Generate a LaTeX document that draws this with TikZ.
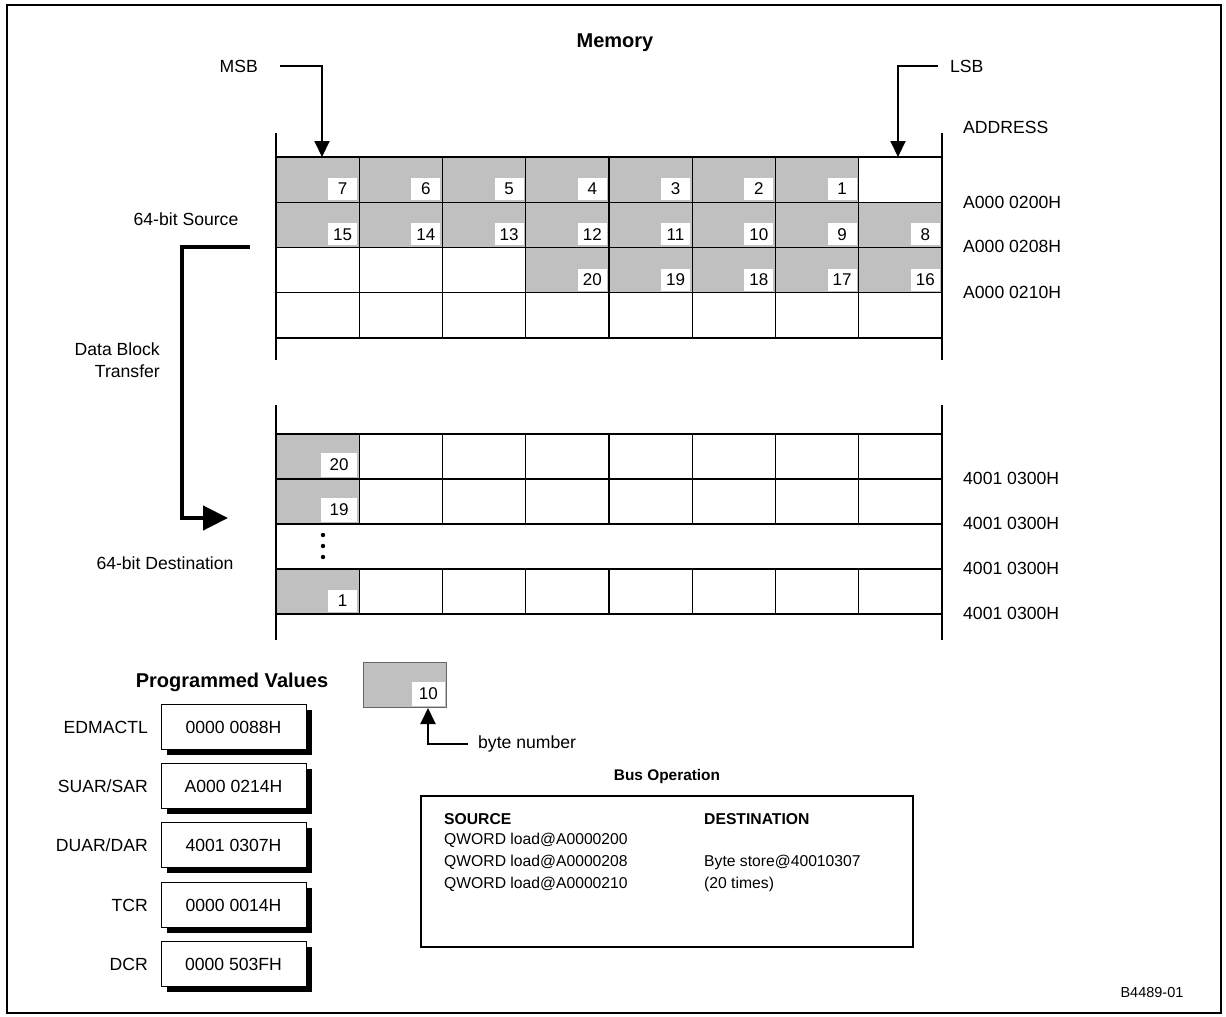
\documentclass[tikz,border=0pt]{standalone}
\usepackage{fontspec}
\setmainfont{Liberation Sans}
\usetikzlibrary{arrows.meta}
\definecolor{cellgray}{RGB}{192,192,192}
\begin{document}
\begin{tikzpicture}[x=1pt,y=-1pt,
  lbl/.style={inner sep=0pt, font=\fontsize{17.6}{22}\selectfont},
  ttl/.style={inner sep=0pt, font=\fontsize{20}{24}\selectfont\bfseries},
  bus/.style={inner sep=0pt, anchor=west, font=\fontsize{15.7}{19}\selectfont},
  busb/.style={inner sep=0pt, anchor=west, font=\fontsize{15.7}{19}\selectfont\bfseries},
  num/.style={fill=white, minimum width=29pt, minimum height=22pt, inner sep=0pt, anchor=south east, font=\fontsize{17}{20}\selectfont},
  numd/.style={num, minimum width=36pt, minimum height=24pt},
  gridline/.style={line width=1.1pt},
  wall/.style={line width=2.6pt},
  pointer/.style={line width=2pt, -{Triangle[length=16pt,width=15pt]}},
  bigarrow/.style={line width=4.5pt, -{Triangle[length=25pt,width=24pt]}},
  regbox/.style={draw, line width=0.8pt, fill=white, minimum width=145pt, minimum height=45pt, inner sep=0pt, font=\fontsize{17.6}{22}\selectfont},
]
\useasboundingbox (0,0) rectangle (1226,1017);
\draw[line width=2pt] (7,5) rectangle (1221,1013);

% ---------- title ----------
\node[ttl] (memory) at (615,43) {Memory};

% ---------- source grid ----------
\def\gx{276}\def\gw{83.25}\def\gh{45.25}\def\sy{157}
\foreach \c in {1,...,7}{\fill[cellgray] (\gx+\c*\gw-\gw,\sy) rectangle (\gx+\c*\gw,\sy+\gh);}
\foreach \c in {1,...,8}{\fill[cellgray] (\gx+\c*\gw-\gw,\sy+\gh) rectangle (\gx+\c*\gw,\sy+2*\gh);}
\foreach \c in {4,...,8}{\fill[cellgray] (\gx+\c*\gw-\gw,\sy+2*\gh) rectangle (\gx+\c*\gw,\sy+3*\gh);}
\foreach \r in {0,...,4}{\draw[gridline] (\gx,\sy+\r*\gh) -- (942,\sy+\r*\gh);}
\foreach \c in {1,...,7}{\draw[gridline] (\gx+\c*\gw,\sy) -- (\gx+\c*\gw,\sy+4*\gh);}
\foreach \c in {1,...,7}{\pgfmathtruncatemacro\n{8-\c}
  \node[num] (s1-\c) at (\gx+\c*\gw-2,\sy+\gh-2) {\n};}
\foreach \c in {1,...,8}{\pgfmathtruncatemacro\n{16-\c}
  \node[num] (s2-\c) at (\gx+\c*\gw-2,\sy+2*\gh-2) {\n};}
\foreach \c in {4,...,8}{\pgfmathtruncatemacro\n{24-\c}
  \node[num] (s3-\c) at (\gx+\c*\gw-2,\sy+3*\gh-2) {\n};}
\draw[wall] (276,133) -- (276,360);
\draw[wall] (942,133) -- (942,360);

% ---------- destination grid ----------
\def\dy{434}\def\dh{45}
\fill[cellgray] (276,\dy) rectangle (276+\gw,\dy+2*\dh);
\fill[cellgray] (276,\dy+3*\dh) rectangle (276+\gw,\dy+4*\dh);
\foreach \r in {0,...,4}{\draw[gridline] (276,\dy+\r*\dh) -- (942,\dy+\r*\dh);}
\foreach \c in {1,...,7}{\draw[gridline] (\gx+\c*\gw,\dy) -- (\gx+\c*\gw,\dy+2*\dh);
  \draw[gridline] (\gx+\c*\gw,\dy+3*\dh) -- (\gx+\c*\gw,\dy+4*\dh);}
\node[numd] (d1) at (\gx+\gw-2,\dy+\dh-2) {20};
\node[numd] (d2) at (\gx+\gw-2,\dy+2*\dh-2) {19};
\node[num] (d4) at (\gx+\gw-2,\dy+4*\dh-2) {1};
\foreach \yy in {535,546,557}{\fill (323,\yy) circle (2.2);}
\draw[wall] (276,405) -- (276,640);
\draw[wall] (942,405) -- (942,640);

% ---------- addresses ----------
\node[lbl, anchor=west] (addr) at (963,127) {ADDRESS};
\node[lbl, anchor=west] (a1) at (963,202) {A000 0200H};
\node[lbl, anchor=west] (a2) at (963,246) {A000 0208H};
\node[lbl, anchor=west] (a3) at (963,292) {A000 0210H};
\foreach \yy/\i in {478/1,523/2,568/3,613/4}{\node[lbl, anchor=west] (b\i) at (963,\yy) {4001 0300H};}

% ---------- MSB / LSB ----------
\node[lbl, anchor=east] (msb) at (258,66) {MSB};
\node[lbl, anchor=west] (lsb) at (950,66) {LSB};
\coordinate (msbtip) at (322,157);
\coordinate (lsbtip) at (898,157);
\draw[pointer] ([xshift=22pt]msb.east) -| (msbtip);
\draw[pointer] ([xshift=-12pt]lsb.west) -| (lsbtip);

% ---------- left labels & transfer arrow ----------
\node[lbl] (srclbl) at (186,219) {64-bit Source};
\node[lbl, align=right, anchor=east] (dbt) at (160,360) {Data Block\\Transfer};
\node[lbl] (dstlbl) at (165,563) {64-bit Destination};
\coordinate (xfrom) at (250,247);
\coordinate (xto) at (228,518);
\draw[bigarrow] (xfrom) -- (182,247) |- (xto);

% ---------- programmed values ----------
\node[ttl] (pv) at (232,682) {Programmed Values};
\foreach \yy/\nm/\val/\id in {727/EDMACTL/0000 0088H/r1, 786/SUAR\slash SAR/A000 0214H/r2, 845/DUAR\slash DAR/4001 0307H/r3, 905/TCR/0000 0014H/r4, 964/DCR/0000 503FH/r5}{
  \fill (239,\yy+5) ++(-72.5,-22.5) rectangle ++(145,45);
  \node[regbox] (\id) at (233.5,\yy) {\val};
  \node[lbl, anchor=east] (\id-l) at (148,\yy) {\nm};
}

% ---------- legend ----------
\node[draw=gray!80!black, fill=cellgray, line width=1pt, minimum width=83pt, minimum height=45pt, inner sep=0pt] (leg) at (404.5,684.5) {};
\node[num, minimum width=33pt, minimum height=24pt] (legn) at ([xshift=-1.5pt,yshift=1.5pt]leg.south east) {10};
\node[lbl, anchor=west] (bytenum) at (478,744) {byte number};
\coordinate (legtip) at (428,708);
\draw[pointer] ([xshift=-10pt]bytenum.west) -| (legtip);

% ---------- bus operation ----------
\node[inner sep=0pt, font=\fontsize{15.4}{19}\selectfont\bfseries] (bustitle) at (667,777) {Bus Operation};
\draw[line width=2pt] (421,796) rectangle (913,947);
\node[busb] (srch) at (444,819) {SOURCE};
\node[bus] (q1) at (444,840) {QWORD load@A0000200};
\node[bus] (q2) at (444,862) {QWORD load@A0000208};
\node[bus] (q3) at (444,884) {QWORD load@A0000210};
\node[busb] (dsth) at (704,819) {DESTINATION};
\node[bus] (bs) at (704,862) {Byte store@40010307};
\node[bus] (tm) at (704,884) {(20 times)};

\node[inner sep=0pt, font=\fontsize{14.5}{18}\selectfont] (fig) at (1152,992) {B4489-01};
\end{tikzpicture}
\end{document}
